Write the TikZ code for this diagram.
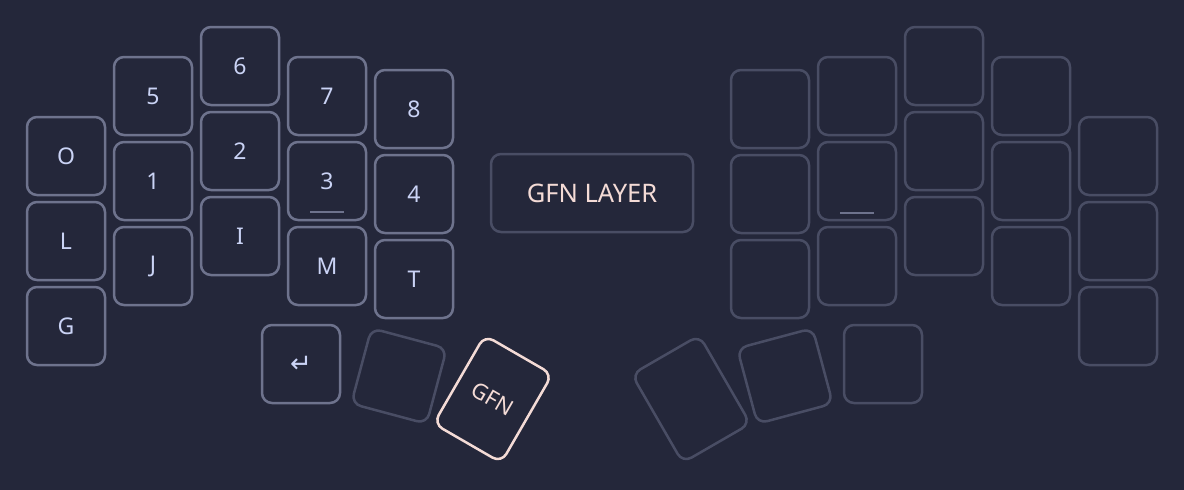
\documentclass[tikz,border=0pt]{standalone}
\usepackage{fontspec}
\setmainfont{Noto Sans}
\newfontfamily\symfont{DejaVu Sans}
\definecolor{bg}{HTML}{24273A}
\definecolor{keyline}{HTML}{6E738D}
\definecolor{dimline}{HTML}{494D64}
\definecolor{keytext}{HTML}{CAD3F5}
\definecolor{rose}{HTML}{F4DBD6}
\begin{document}
\begin{tikzpicture}[x=1pt,y=-1pt,
  key/.style={draw=keyline, line width=2.5pt, rounded corners=10pt, minimum width=78pt, minimum height=78pt, inner sep=0pt, text=keytext, font=\fontsize{23}{27}\selectfont},
  dimkey/.style={key, draw=dimline},
  tallkey/.style={key, minimum height=102pt},
  ul/.style={draw=keyline, line width=2pt}]
\fill[bg] (0,0) rectangle (1184,490);
\useasboundingbox (0,0) rectangle (1184,490);
% left half
\node[key] (l00) at (66,156) {O};
\node[key] (l01) at (66,241) {L};
\node[key] (l02) at (66,326) {G};
\node[key] (l10) at (153,96) {5};
\node[key] (l11) at (153,181) {1};
\node[key] (l12) at (153,266) {J};
\node[key] (l20) at (240,66) {6};
\node[key] (l21) at (240,151) {2};
\node[key] (l22) at (240,236) {I};
\node[key] (l30) at (327,96) {7};
\node[key] (l31) at (327,181) {3};
\node[key] (l32) at (327,266) {M};
\node[key] (l40) at (414,109) {8};
\node[key] (l41) at (414,194) {4};
\node[key] (l42) at (414,279) {T};
\draw[ul] ([xshift=-17pt,yshift=-31pt]l31.center) -- ([xshift=17pt,yshift=-31pt]l31.center);
% left thumbs
\node[key] (lt0) at (301,364) {\symfont\fontsize{26}{30}\selectfont ↵};
\node[dimkey, rotate=-15] (lt1) at (399,376) {};
\node[tallkey, draw=rose, text=rose, rotate=-30, font=\fontsize{22}{26}\selectfont] (lt2) at (493,399) {GFN};
% layer label
\node[draw=dimline, line width=2.5pt, rounded corners=10pt, minimum width=202pt, minimum height=78pt, inner sep=0pt, text=rose, font=\fontsize{25.5}{30}\selectfont] (layer) at (592,193) {GFN LAYER};
% right half
\node[dimkey] (r00) at (770,109) {};
\node[dimkey] (r01) at (770,194) {};
\node[dimkey] (r02) at (770,279) {};
\node[dimkey] (r10) at (857,96) {};
\node[dimkey] (r11) at (857,181) {};
\node[dimkey] (r12) at (857,266) {};
\node[dimkey] (r20) at (944,66) {};
\node[dimkey] (r21) at (944,151) {};
\node[dimkey] (r22) at (944,236) {};
\node[dimkey] (r30) at (1031,96) {};
\node[dimkey] (r31) at (1031,181) {};
\node[dimkey] (r32) at (1031,266) {};
\node[dimkey] (r40) at (1118,156) {};
\node[dimkey] (r41) at (1118,241) {};
\node[dimkey] (r42) at (1118,326) {};
\draw[ul] ([xshift=-17pt,yshift=-32pt]r11.center) -- ([xshift=17pt,yshift=-32pt]r11.center);
% right thumbs
\node[dimkey] (rt0) at (883,364) {};
\node[dimkey, rotate=15] (rt1) at (785,376) {};
\node[tallkey, draw=dimline, rotate=30] (rt2) at (691,399) {};
\end{tikzpicture}
\end{document}
